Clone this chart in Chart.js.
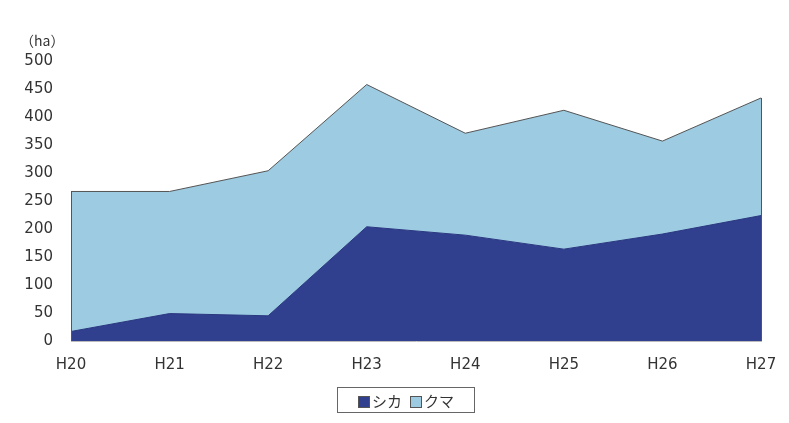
<!DOCTYPE html>
<html>
<head>
<meta charset="utf-8">
<script src="https://cdn.jsdelivr.net/npm/chart.js@4.4.0/dist/chart.umd.min.js"></script>
<style>
  html, body { margin: 0; padding: 0; background: #fff; }
  #wrap { position: relative; width: 789px; height: 423px; }
  #unit { position: absolute; left: 20px; top: 30px; font: 14px "Noto Sans CJK JP", sans-serif; color: #333; }
  #legend { position: absolute; left: 337px; top: 387px; width: 138px; height: 26px; border: 1px solid #666;
    box-sizing: border-box; display: flex; align-items: center; justify-content: center; gap: 8px;
    font: 15px "Noto Sans CJK JP", sans-serif; color: #333; }
  .sw { display: inline-block; width: 10px; height: 10px; border: 1px solid #555; margin-right: 2px; vertical-align: -1px; }
</style>
</head>
<body>
<div id="wrap">
  <canvas id="c" width="789" height="423"></canvas>
  <div id="unit">（ha）</div>
  <div id="legend">
    <span><span class="sw" style="background:#303f8e"></span>シカ</span>
    <span><span class="sw" style="background:#9dcbe2"></span>クマ</span>
  </div>
</div>
<script>
const labels = ['H20', 'H21', 'H22', 'H23', 'H24', 'H25', 'H26', 'H27']
const shika = [17, 49, 45, 204, 189, 164, 191, 224]
const kuma = [250, 218, 259, 254, 182, 248, 166, 210]
const yTicks = [0, 50, 100, 150, 200, 250, 300, 350, 400, 450, 500]

// outline the left/right edges of the stacked area like the original
const edgePlugin = {
  id: 'edges',
  afterDatasetsDraw(chart) {
    const ctx = chart.ctx
    const x = chart.scales.x, y = chart.scales.y
    const last = labels.length - 1
    ctx.save()
    ctx.strokeStyle = '#555'
    ctx.lineWidth = 1
    ;[0, last].forEach(i => {
      const px = Math.round(x.getPixelForValue(i)) + 0.5
      ctx.beginPath()
      ctx.moveTo(px, y.getPixelForValue(shika[i] + kuma[i]))
      ctx.lineTo(px, y.getPixelForValue(0))
      ctx.stroke()
    })
    ctx.restore()
  }
}

new Chart(document.getElementById('c'), {
  type: 'line',
  data: {
    labels,
    datasets: [
      { label: 'シカ', data: shika, fill: 'origin', backgroundColor: '#303f8e', borderColor: '#2a3880', borderWidth: 1, pointRadius: 0, tension: 0 },
      { label: 'クマ', data: kuma, fill: '-1', backgroundColor: '#9dcbe2', borderColor: '#555', borderWidth: 1, pointRadius: 0, tension: 0 }
    ]
  },
  options: {
    responsive: false,
    animation: false,
    layout: { padding: { top: 61, right: 0, left: 0, bottom: 0 } },
    plugins: { legend: { display: false }, tooltip: { enabled: false } },
    scales: {
      x: {
        grid: { display: false, drawTicks: false },
        border: { display: true, color: '#bbb' },
        ticks: { color: '#333', font: { family: 'DejaVu Sans', size: 15 }, padding: 15, maxRotation: 0 },
        afterFit: s => { s.height = 82; s.paddingRight = 28; s.paddingLeft = 0 }
      },
      y: {
        stacked: true,
        min: 0, max: 500,
        afterBuildTicks: s => { s.ticks = yTicks.map(v => ({ value: v })) },
        grid: { display: false, drawTicks: false },
        border: { display: false },
        ticks: { color: '#333', font: { family: 'DejaVu Sans', size: 15 }, padding: 18 },
        afterFit: s => { s.width = 71 }
      }
    }
  },
  plugins: [edgePlugin]
})
</script>
</body>
</html>
